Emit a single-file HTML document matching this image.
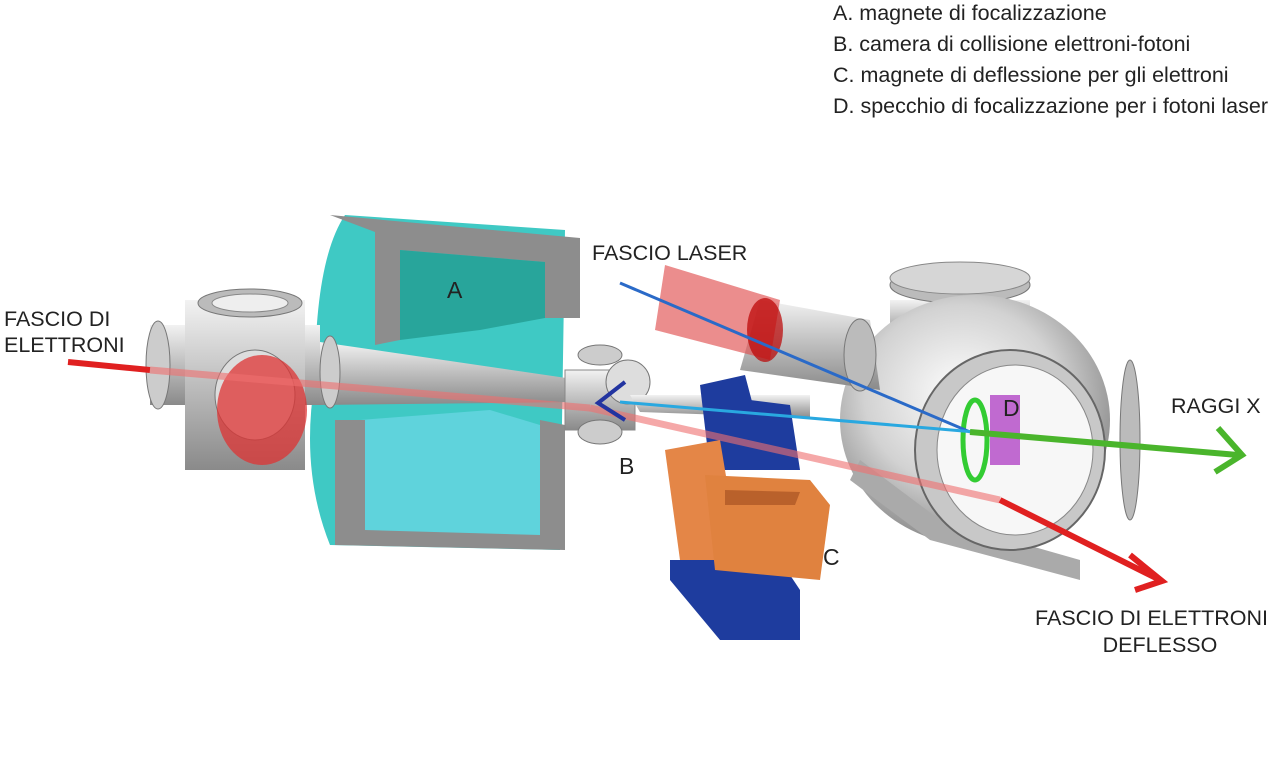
<!DOCTYPE html>
<html><head><meta charset="utf-8"><style>
html,body{margin:0;padding:0;background:#fff;}
svg{display:block;}
text{font-family:"Liberation Sans",sans-serif;fill:#222;}
</style></head><body>
<svg width="1280" height="772" viewBox="0 0 1280 772" xmlns="http://www.w3.org/2000/svg">
<defs>
<linearGradient id="g1" x1="0" y1="0" x2="0" y2="1"><stop offset="0" stop-color="#f2f2f2"/><stop offset="0.5" stop-color="#bdbdbd"/><stop offset="1" stop-color="#8a8a8a"/></linearGradient>
<radialGradient id="g2" cx="0.45" cy="0.4" r="0.6"><stop offset="0" stop-color="#ffffff"/><stop offset="0.6" stop-color="#d2d2d2"/><stop offset="1" stop-color="#8d8d8d"/></radialGradient>
</defs>
<g font-size="21.5">
<text x="833" y="20">A. magnete di focalizzazione</text>
<text x="833" y="51">B. camera di collisione elettroni-fotoni</text>
<text x="833" y="82">C. magnete di deflessione per gli elettroni</text>
<text x="833" y="113">D. specchio di focalizzazione per i fotoni laser</text>
</g>
<!-- magnet A -->
<path d="M345 215 L565 230 L560 550 L330 545 Q300 470 315 380 Q315 260 345 215Z" fill="#3fc9c4"/>
<path d="M330 215 L580 238 L580 318 L545 318 L545 262 L400 250 L400 340 L375 345 L375 232Z" fill="#8d8d8d"/>
<path d="M400 250 L545 262 L545 318 L480 330 L400 340Z" fill="#28a59b"/>
<path d="M360 420 L360 535 L540 540 L540 425 L490 410 L360 420Z" fill="#5fd3dc"/>
<path d="M335 420 L365 420 L365 530 L540 535 L540 420 L565 425 L565 550 L335 545Z" fill="#8d8d8d"/>
<!-- cone -->
<path d="M320 342 L580 380 L580 402 L320 405Z" fill="url(#g1)"/>
<!-- left chamber -->
<rect x="150" y="325" width="170" height="80" fill="url(#g1)"/>
<rect x="185" y="300" width="120" height="170" fill="url(#g1)"/>
<ellipse cx="250" cy="303" rx="52" ry="14" fill="#bbb" stroke="#777"/>
<ellipse cx="250" cy="303" rx="38" ry="9" fill="#eee" stroke="#888"/>
<ellipse cx="158" cy="365" rx="12" ry="44" fill="#ccc" stroke="#777"/>
<ellipse cx="255" cy="395" rx="40" ry="45" fill="#ddd" stroke="#777"/>
<ellipse cx="330" cy="372" rx="10" ry="36" fill="#ccc" stroke="#777"/>
<ellipse cx="262" cy="410" rx="45" ry="55" fill="#d33" opacity="0.75"/>
<!-- small chamber B -->
<rect x="565" y="370" width="70" height="60" fill="url(#g1)" stroke="#888"/>
<ellipse cx="600" cy="355" rx="22" ry="10" fill="#ccc" stroke="#777"/>
<ellipse cx="600" cy="432" rx="22" ry="12" fill="#ccc" stroke="#777"/>
<circle cx="628" cy="382" r="22" fill="#ddd" stroke="#777"/>
<path d="M630 395 L810 395 L810 418 L640 412Z" fill="url(#g1)"/>
<!-- big chamber -->
<path d="M890 300 L1030 300 L1030 340 L890 340Z" fill="url(#g1)"/>
<ellipse cx="960" cy="285" rx="70" ry="18" fill="#bbb" stroke="#777"/>
<ellipse cx="960" cy="278" rx="70" ry="16" fill="#d6d6d6" stroke="#888"/>
<ellipse cx="975" cy="420" rx="135" ry="125" fill="url(#g2)"/>
<path d="M850 480 L930 540 L1080 580 L1080 560 L940 520 L860 460Z" fill="#aaa"/>
<ellipse cx="1130" cy="440" rx="10" ry="80" fill="#bbb" stroke="#777"/>
<ellipse cx="1010" cy="450" rx="95" ry="100" fill="#c8c8c8" stroke="#666" stroke-width="2"/>
<ellipse cx="1015" cy="450" rx="78" ry="85" fill="#f7f7f7" stroke="#888"/>
<rect x="990" y="395" width="30" height="70" fill="#c06ad0"/>
<ellipse cx="975" cy="440" rx="12" ry="40" fill="none" stroke="#3c3" stroke-width="5"/>
<!-- laser tube -->
<path d="M760 300 L870 320 L880 390 L740 370Z" fill="url(#g1)"/>
<ellipse cx="860" cy="355" rx="16" ry="36" fill="#bbb" stroke="#777"/>
<path d="M665 265 L780 300 L770 360 L655 330Z" fill="#e05050" opacity="0.65"/>
<ellipse cx="765" cy="330" rx="18" ry="32" fill="#b00" opacity="0.7"/>
<!-- magnet C -->
<path d="M700 385 L745 375 L770 470 L710 470Z" fill="#1e3c9e"/>
<path d="M750 400 L790 405 L800 470 L745 470Z" fill="#1e3c9e"/>
<path d="M670 560 L780 560 L800 590 L800 640 L720 640 L670 580Z" fill="#1e3c9e"/>
<path d="M665 450 L720 440 L740 560 L680 560Z" fill="#e48647"/>
<path d="M705 475 L810 480 L830 505 L820 580 L715 570 Z" fill="#e0823f"/>
<path d="M725 490 L800 492 L795 505 L725 505Z" fill="#b9612b"/>
<!-- beams -->
<line x1="620" y1="283" x2="970" y2="432" stroke="#2a6ac8" stroke-width="3"/>
<line x1="620" y1="402" x2="975" y2="432" stroke="#29a8e0" stroke-width="3"/>
<line x1="970" y1="432" x2="1238" y2="455" stroke="#4ab52c" stroke-width="6"/>
<polyline points="1218,428 1242,455 1215,472" fill="none" stroke="#4ab52c" stroke-width="6"/>
<line x1="68" y1="362" x2="150" y2="370" stroke="#e02020" stroke-width="6"/>
<line x1="150" y1="370" x2="590" y2="408" stroke="#f07070" stroke-width="7" opacity="0.6"/>
<path d="M590 408 L1000 500" stroke="#f07070" stroke-width="7" opacity="0.6"/>
<line x1="1000" y1="500" x2="1160" y2="580" stroke="#e02020" stroke-width="6"/>
<polyline points="1130,555 1162,581 1135,590" fill="none" stroke="#e02020" stroke-width="6"/>
<polyline points="625,382 598,403 625,420" fill="none" stroke="#2234a0" stroke-width="4"/>
<!-- labels -->
<g font-size="21.5">
<text x="4" y="326">FASCIO DI</text>
<text x="4" y="352">ELETTRONI</text>
<text x="592" y="260">FASCIO LASER</text>
<text x="447" y="298" font-size="23">A</text>
<text x="619" y="474" font-size="23">B</text>
<text x="823" y="565" font-size="23">C</text>
<text x="1003" y="416" font-size="23">D</text>
<text x="1171" y="413">RAGGI X</text>
<text x="1268" y="625" text-anchor="end">FASCIO DI ELETTRONI</text>
<text x="1160" y="652" text-anchor="middle">DEFLESSO</text>
</g>
</svg>
</body></html>
